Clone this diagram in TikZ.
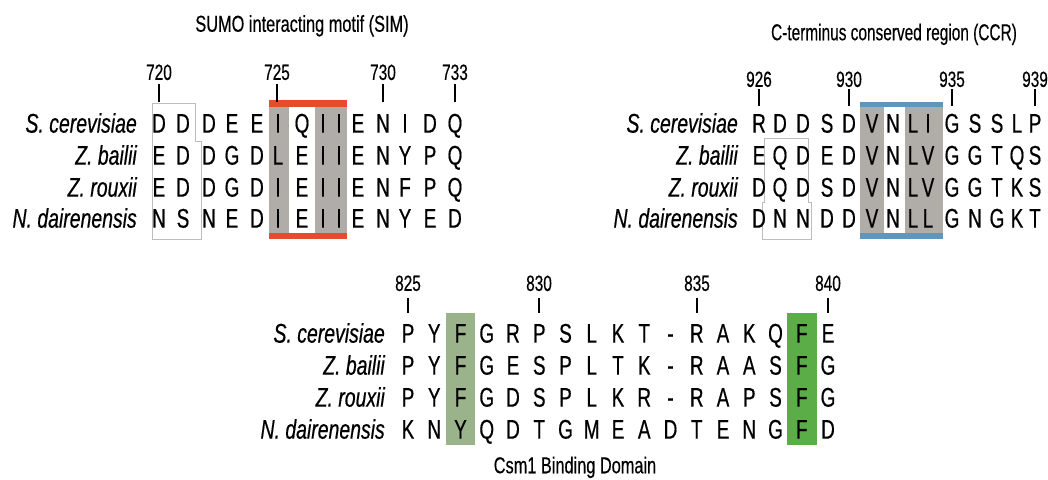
\documentclass[tikz,border=0pt]{standalone}
\usepackage{fontspec}
\setmainfont{Liberation Sans}
\newfontfamily\seqfont[FakeStretch=0.70,FakeBold=0.5]{Liberation Sans}
\newfontfamily\specfont[FakeStretch=0.72,FakeBold=0.5]{Liberation Sans}
\newfontfamily\numfont[FakeStretch=0.70,FakeBold=0.4]{Liberation Sans}
\newfontfamily\ttlfont[FakeStretch=0.71,FakeBold=0.4]{Liberation Sans}
\newfontfamily\ttlfontn[FakeStretch=0.67,FakeBold=0.4]{Liberation Sans}

\definecolor{seqgrey}{HTML}{B0ACA7}
\definecolor{simred}{HTML}{E64B2E}
\definecolor{ccrblue}{HTML}{5E96BD}
\definecolor{greenA}{HTML}{9BB38B}
\definecolor{greenB}{HTML}{5BAD48}
\definecolor{boxgrey}{HTML}{BDBDBD}

\tikzset{
  res/.style={inner sep=0pt, text height=19.3pt, text depth=0pt,
    font=\seqfont\fontsize{27}{27}\selectfont},
  species/.style={inner sep=0pt, anchor=east, text height=19.3pt, text depth=0pt,
    font=\specfont\itshape\fontsize{27}{27}\selectfont},
  posnum/.style={inner sep=0pt, text height=15.75pt, text depth=0pt,
    font=\numfont\fontsize{22}{22}\selectfont},
  paneltitle/.style={inner sep=0pt, text height=16.5pt, text depth=0pt,
    font=\ttlfont\fontsize{23}{23}\selectfont},
  tickline/.style={line width=1.2pt},
  openbox/.style={draw=boxgrey, line width=0.8pt},
}

\begin{document}
\begin{tikzpicture}[x=1pt,y=-1pt]
\useasboundingbox (0,0) rectangle (1048,479);

% ---------------- SUMO interacting motif ----------------
\node[paneltitle] (simtitle) at (302,23.5) {SUMO interacting motif (SIM)};
\fill[seqgrey] (269,107) rectangle (289,233);
\fill[seqgrey] (315,107) rectangle (347,233);
\fill[simred] (269,100) rectangle (347,107);
\fill[simred] (269,233) rectangle (347,239);
\draw[openbox] (152,103) -- (195,103) -- (195,141) -- (201,141) -- (201,239) -- (152,239) -- cycle;

\foreach \name [count=\r] in {S. cerevisiae, Z. bailii, Z. rouxii, N. dairenensis} {
  \pgfmathsetmacro\yy{{123,155,187,218}[\r-1]}
  \node[species] (simsp\r) at (137,\yy) {\name};
}
\foreach \row [count=\r] in {
  {D,D,D,E,E,I,Q,I,I,E,N,I,D,Q},
  {E,D,D,G,D,L,E,I,I,E,N,Y,P,Q},
  {E,D,D,G,D,I,E,I,I,E,N,F,P,Q},
  {N,S,N,E,D,I,E,I,I,E,N,Y,E,D}} {
  \pgfmathsetmacro\yy{{123,155,187,218}[\r-1]}
  \foreach \aa [count=\c] in \row {
    \pgfmathsetmacro\xx{{159,183,209,232,257,278,302,323,339,358,383,405,430,455}[\c-1]}
    \node[res] (sim-\r-\c) at (\xx,\yy) {\aa};
  }
}
\foreach \num/\xx in {720/159, 725/277, 730/383, 733/455} {
  \node[posnum] (n\num) at (\xx,72) {\num};
  \draw[tickline] ([yshift=-4pt]n\num.south) -- ++(0,18);
}

% ---------------- C-terminus conserved region ----------------
\node[paneltitle, font=\ttlfontn\fontsize{23}{23}\selectfont] (ccrtitle) at (894,32)
  {C-terminus conserved region (CCR)};
\fill[seqgrey] (860,107) rectangle (884,233);
\fill[seqgrey] (905,107) rectangle (943,233);
\fill[ccrblue] (860,102) rectangle (943,107);
\fill[ccrblue] (860,233) rectangle (943,239);
\draw[openbox] (764,138) -- (808,138) -- (808,202) -- (811,202) -- (811,239)
  -- (762,239) -- (762,202) -- (764,202) -- cycle;

\foreach \name [count=\r] in {S. cerevisiae, Z. bailii, Z. rouxii, N. dairenensis} {
  \pgfmathsetmacro\yy{{123,155,187,218}[\r-1]}
  \node[species] (ccrsp\r) at (738,\yy) {\name};
}
\foreach \row [count=\r] in {
  {R,D,D,S,D,V,N,L,I,G,S,S,L,P},
  {E,Q,D,E,D,V,N,L,V,G,G,T,Q,S},
  {D,Q,D,S,D,V,N,L,V,G,G,T,K,S},
  {D,N,N,D,D,V,N,L,L,G,N,G,K,T}} {
  \pgfmathsetmacro\yy{{123,155,187,218}[\r-1]}
  \foreach \aa [count=\c] in \row {
    \pgfmathsetmacro\xx{{759,780,803,827,849,872,893,913,928,952,975,997,1017,1035}[\c-1]}
    \node[res] (ccr-\r-\c) at (\xx,\yy) {\aa};
  }
}
\foreach \num/\xx in {926/759, 930/849, 935/952, 939/1035} {
  \node[posnum] (n\num) at (\xx,79) {\num};
  \draw[tickline] ([yshift=-2pt]n\num.south) -- ++(0,17);
}

% ---------------- Csm1 binding domain ----------------
\fill[greenA] (446,313) rectangle (475,445);
\fill[greenB] (787,313) rectangle (817,445);

\foreach \name [count=\r] in {S. cerevisiae, Z. bailii, Z. rouxii, N. dairenensis} {
  \pgfmathsetmacro\yy{{333,365,397,429}[\r-1]}
  \node[species] (csmsp\r) at (385,\yy) {\name};
}
\foreach \row [count=\r] in {
  {P,Y,F,G,R,P,S,L,K,T,-,R,A,K,Q,F,E},
  {P,Y,F,G,E,S,P,L,T,K,-,R,A,A,S,F,G},
  {P,Y,F,G,D,S,P,L,K,R,-,R,A,P,S,F,G},
  {K,N,Y,Q,D,T,G,M,E,A,D,T,E,N,G,F,D}} {
  \pgfmathsetmacro\yy{{333,365,397,429}[\r-1]}
  \foreach \aa [count=\c] in \row {
    \pgfmathsetmacro\xx{408+26.25*(\c-1)}
    \node[res] (csm-\r-\c) at (\xx,\yy) {\aa};
  }
}
\foreach \num/\xx in {825/408, 830/539, 835/697, 840/828} {
  \node[posnum] (n\num) at (\xx,283) {\num};
  \draw[tickline] ([yshift=-7pt]n\num.south) -- ++(0,15);
}
\node[paneltitle] (csmtitle) at (575,465) {Csm1 Binding Domain};
\end{tikzpicture}
\end{document}
